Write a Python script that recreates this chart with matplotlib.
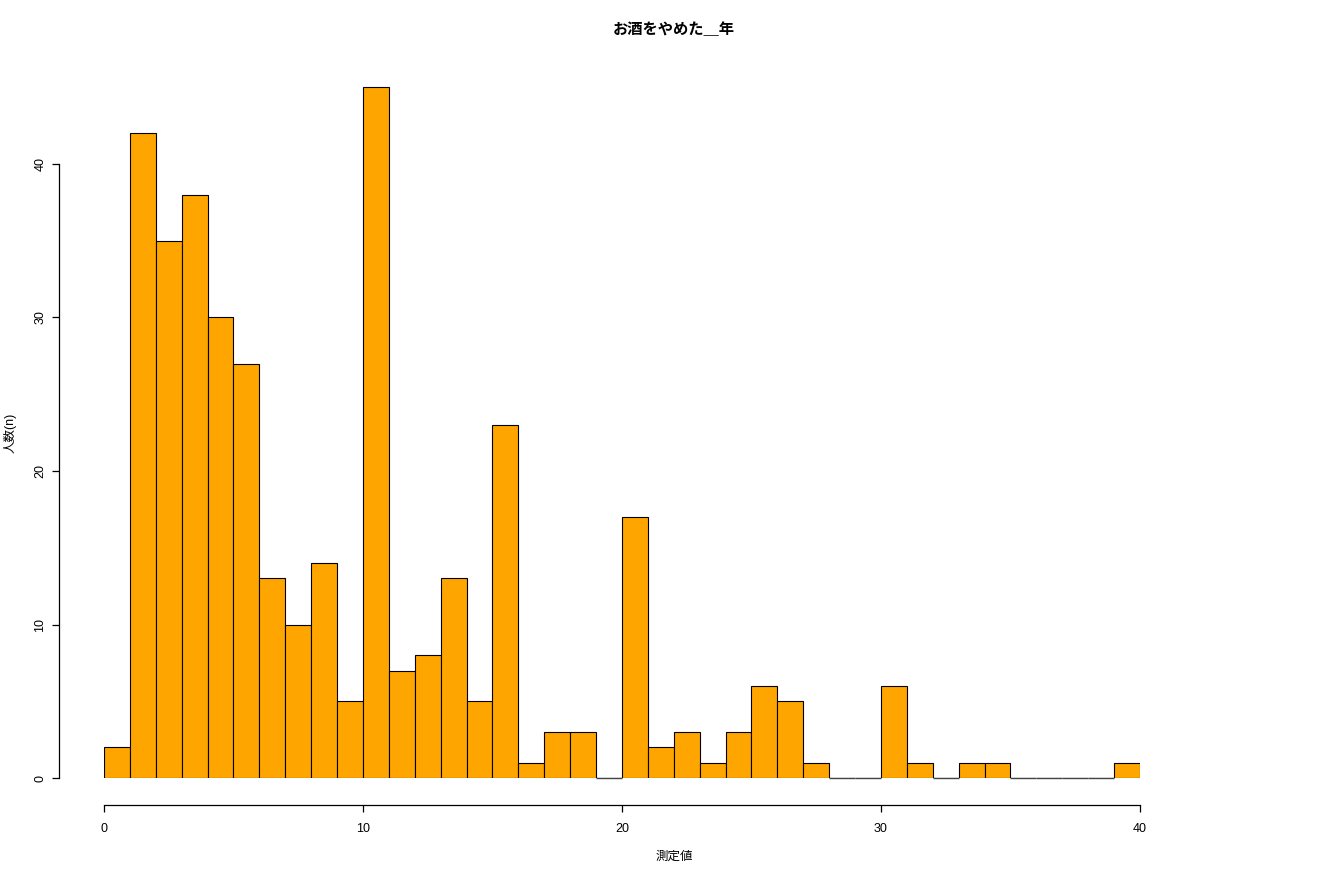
import matplotlib
matplotlib.use("Agg")
import matplotlib.pyplot as plt
import numpy as np

plt.rcParams['font.family'] = ['Liberation Sans', 'Noto Sans CJK JP', 'DejaVu Sans']

bin_edges = list(range(0, 41))
counts = [2, 42, 35, 38, 30, 27, 13, 10, 14, 5,
          45, 7, 8, 13, 5, 23, 1, 3, 3, 0,
          17, 2, 3, 1, 3, 6, 5, 1, 0, 0,
          6, 1, 0, 1, 1, 0, 0, 0, 0, 1]
x_ticks = [0, 10, 20, 30, 40]
y_ticks = [0, 10, 20, 30, 40]
title = "お酒をやめた＿年"
xlabel = "測定値"
ylabel = "人数(n)"

W, H = 1320, 880
fig = plt.figure(figsize=(W/100, H/100), dpi=100)
ppu_y = (778 - 164) / 40.0
ytop = 46.8
ax = fig.add_axes([104/W, (H-778)/H, (1140-104)/W, ytop*ppu_y/H])

edges = np.array(bin_edges)
left = edges[:-1]
widths = np.diff(edges)
cnt = np.array(counts)
ax.bar(left, cnt, width=widths, align='edge', color='#FFA500',
       edgecolor='black', linewidth=0.8)
zero = cnt == 0
ax.hlines(np.zeros(zero.sum()), left[zero], left[zero] + widths[zero],
          colors='#444444', linewidth=1.0, zorder=3, clip_on=False)

ax.set_xlim(0, 40)
ax.set_ylim(0, ytop)
for s in ['top', 'right']:
    ax.spines[s].set_visible(False)
px = 0.72  # points per pixel
ax.spines['left'].set_position(('outward', 45*px))
ax.spines['bottom'].set_position(('outward', 27*px))
ax.spines['left'].set_bounds(0, 40)
ax.spines['bottom'].set_bounds(0, 40)
for s in ['left', 'bottom']:
    ax.spines[s].set_linewidth(0.9)
ax.set_xticks(x_ticks)
ax.set_yticks(y_ticks)
ax.tick_params(axis='both', length=7*px, width=0.9, labelsize=9)
ax.tick_params(axis='x', pad=8)
ax.tick_params(axis='y', pad=4)
for lbl in ax.get_yticklabels():
    lbl.set_rotation(90)
    lbl.set_va('center')

fig.text(674/W, 1 - 30/H, title, ha='center', va='center', fontsize=11, fontweight='bold')
fig.text(674/W, 1 - 857/H, xlabel, ha='center', va='center', fontsize=9)
fig.text(10/W, 1 - 433/H, ylabel, ha='center', va='center', fontsize=9, rotation=90)

fig.savefig('out.png', dpi=100)
